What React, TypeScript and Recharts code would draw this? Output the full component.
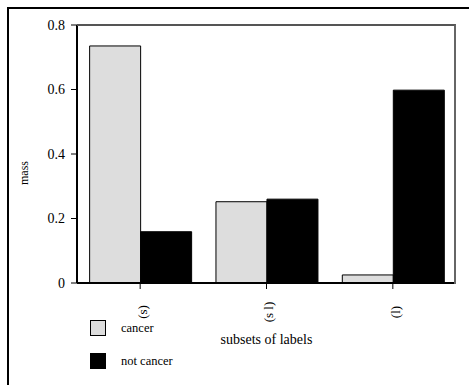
import React from 'react';
import { BarChart, Bar, XAxis, YAxis, Label } from 'recharts';

const categories = ['(s)', '(s l)', '(l)'];
const cancer = [0.735, 0.252, 0.025];
const notCancer = [0.159, 0.26, 0.598];
const yTicks = [0, 0.2, 0.4, 0.6, 0.8];

const seriesInfo = [
  { key: 'cancer', name: 'cancer', fill: '#dddddd' },
  { key: 'notCancer', name: 'not cancer', fill: '#000000' },
];

const data = categories.map((c, i) => ({ name: c, cancer: cancer[i], notCancer: notCancer[i] }));

const FONT = '"Liberation Serif", "DejaVu Serif", serif';

const XTick = (props: any) => {
  const { x, y, payload } = props;
  return (
    <text
      x={x}
      y={y + 17}
      transform={`rotate(-90, ${x + 4}, ${y + 17})`}
      textAnchor="middle"
      dominantBaseline="middle"
      fontSize={13}
      fontFamily={FONT}
      fill="#000"
    >
      {payload.value}
    </text>
  );
};

const MassLabel = () => (
  <text x={28} y={173} transform="rotate(-90, 28, 173)" textAnchor="middle" fontSize={12} fontFamily={FONT} fill="#000">
    mass
  </text>
);

export default function App() {
  return (
    <div style={{ position: 'absolute', left: 0, top: 0, width: 469, height: 385, background: '#fff', fontFamily: FONT }}>
      <div style={{ position: 'absolute', left: 7, top: 7, width: 462, height: 378, borderLeft: '2px solid #000', borderTop: '2px solid #000' }} />
      <BarChart
        width={469}
        height={385}
        data={data}
        margin={{ top: 25, right: 13, left: 37, bottom: 0 }}
        barCategoryGap="10%"
        barGap={0}
      >
        <XAxis
          dataKey="name"
          height={102}
          stroke="#000"
          strokeWidth={2}
          tickSize={6}
          tick={<XTick />}
          tickLine={{ stroke: '#000', strokeWidth: 1 }}
          interval={0}
        >
          <Label value="subsets of labels" position="insideTop" offset={51} fontSize={14} fontFamily={FONT} fill="#000" />
        </XAxis>
        <YAxis
          domain={[0, 0.8]}
          ticks={yTicks}
          width={40}
          stroke="#000"
          strokeWidth={2}
          tickSize={6}
          tickMargin={6}
          tickLine={{ stroke: '#000', strokeWidth: 1 }}
          tick={{ fontSize: 14, fontFamily: FONT, fill: '#000' }}
          tickFormatter={(v: number) => (v === 0 ? '0' : v.toFixed(1))}
          label={<MassLabel />}
        />
        {seriesInfo.map((s) => (
          <Bar key={s.key} dataKey={s.key} name={s.name} fill={s.fill} stroke="#000" strokeWidth={1} isAnimationActive={false} />
        ))}
      </BarChart>
      {/* top and right edges of the plot box */}
      <div
        style={{
          position: 'absolute',
          left: 77,
          top: 24,
          width: 377,
          height: 258,
          borderTop: '2px solid #555',
          borderRight: '2px solid #666',
          pointerEvents: 'none',
        }}
      />
      {seriesInfo.map((s, i) => (
        <div key={s.key} style={{ position: 'absolute', left: 90, top: 320 + i * 33, display: 'flex', alignItems: 'center' }}>
          <div style={{ width: 14, height: 14, background: s.fill, border: '1px solid #000' }} />
          <span style={{ marginLeft: 15, fontSize: 12.5, color: '#000' }}>{s.name}</span>
        </div>
      ))}
    </div>
  );
}
